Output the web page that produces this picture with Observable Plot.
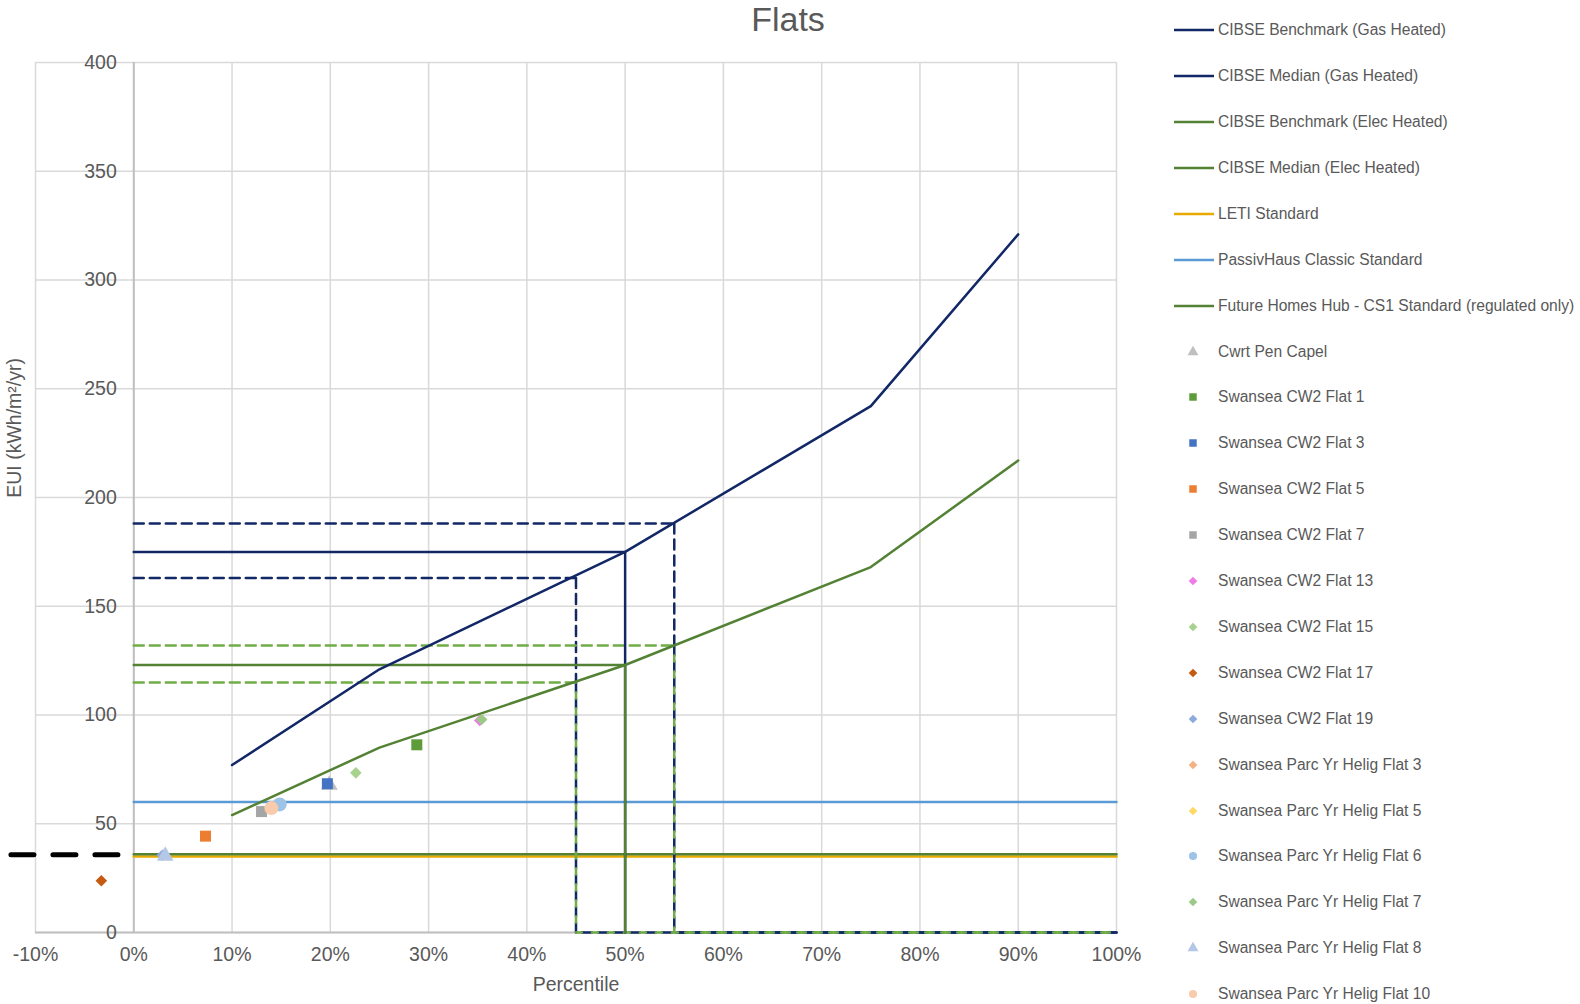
<!DOCTYPE html>
<html><head><meta charset="utf-8">
<script src="https://cdn.jsdelivr.net/npm/d3@7"></script>
<script src="https://cdn.jsdelivr.net/npm/@observablehq/plot@0.6"></script>
<style>
body{margin:0;background:#fff;font-family:"Liberation Sans",Arial,sans-serif;color:#595959;}
#wrap{position:relative;width:1580px;height:1004px;overflow:hidden;}
#title{position:absolute;left:0;top:0;width:1576px;height:45px;text-align:center;font-size:34px;line-height:38px;color:#595959;}
#chart{position:absolute;left:0;top:45px;}
#legend{position:absolute;left:1174px;top:0;}
.item{position:absolute;left:0;height:20px;display:flex;align-items:center;white-space:nowrap;font-size:15.6px;color:#595959;}
.item span{margin-left:4px;}
</style></head><body>
<div id="wrap"><div id="title">Flats</div><div id="chart"></div><div id="legend"></div></div>
<script>
// ---- axes ----
const xTicks = [-10, 0, 10, 20, 30, 40, 50, 60, 70, 80, 90, 100];
const yTicks = [0, 50, 100, 150, 200, 250, 300, 350, 400];

// ---- CIBSE benchmark curves ----
const benchPct = [10, 25, 50, 75, 90];
const gasBenchEUI = [77, 121, 175, 242, 321];
const elecBenchEUI = [54, 85, 123, 168, 217];

// ---- CIBSE median / range markers (percentile lower, median, upper) ----
const rangePct = [45, 50, 55];
const gasRangeEUI = [163, 175, 188];
const elecRangeEUI = [115, 123, 132];

// ---- standards (horizontal, 0%..100%) ----
const standardSpan = [0, 100];
const letiEUI = 35;
const passivhausEUI = 60;
const fhhEUI = 36;

// ---- left-side marker ----
const leftMarkerPct = [-12.5, -1.6];
const leftMarkerEUI = 35.7;

// ---- measured buildings ----
const siteNames = ["Cwrt Pen Capel", "Swansea CW2 Flat 1", "Swansea CW2 Flat 3", "Swansea CW2 Flat 5",
  "Swansea CW2 Flat 7", "Swansea CW2 Flat 13", "Swansea CW2 Flat 15", "Swansea CW2 Flat 17",
  "Swansea CW2 Flat 19", "Swansea Parc Yr Helig Flat 3", "Swansea Parc Yr Helig Flat 5",
  "Swansea Parc Yr Helig Flat 6", "Swansea Parc Yr Helig Flat 7", "Swansea Parc Yr Helig Flat 8",
  "Swansea Parc Yr Helig Flat 10"];
const sitePct = [19.9, 28.8, 19.7, 7.3, 13.0, 35.2, 22.6, -3.3, 2.9, 14.2, 14.4, 14.85, 35.4, 3.2, 14.0];
const siteEUI = [67.9, 86.3, 68.4, 44.3, 55.6, 97.5, 73.4, 23.8, 35.5, 57.5, 57.8, 58.9, 97.9, 35.2, 57.2];
const siteSymbols = ["triangle", "square", "square", "square", "square", "diamond2", "diamond2", "diamond2",
  "diamond2", "diamond2", "diamond2", "circle", "diamond2", "triangle", "circle"];
const siteColors = ["#bfbfbf", "#5e9c3a", "#4472c4", "#ed7d31", "#a5a5a5", "#f07ce8", "#a9d18e", "#c55a11",
  "#8faadc", "#f4b183", "#ffd966", "#9dc3e6", "#9cc987", "#b4c7e7", "#f8cbad"];

// ---- line series legend ----
const lineNames = ["CIBSE Benchmark (Gas Heated)", "CIBSE Median (Gas Heated)", "CIBSE Benchmark (Elec Heated)",
  "CIBSE Median (Elec Heated)", "LETI Standard", "PassivHaus Classic Standard",
  "Future Homes Hub - CS1 Standard (regulated only)"];
const navy = "#112766", green = "#548235", lightGreen = "#70ad47";
const lineColors = [navy, navy, green, green, "#e8aa00", "#5b9bd5", green];

// ---- build tables ----
const gasBench = benchPct.map((p, i) => ({p, v: gasBenchEUI[i]}));
const elecBench = benchPct.map((p, i) => ({p, v: elecBenchEUI[i]}));
// horizontal dashed pieces (0% -> percentile)
const hDash = vals => [0, 2].flatMap(k => [0, rangePct[k]].map(p => ({k, p, v: vals[k]})));
// navy vertical piece above the green level
const navyDrop = [0, 2].flatMap(k => [gasRangeEUI[k], elecRangeEUI[k]].map(v => ({k, p: rangePct[k], v})));
// shared drop: from green level down to 0 and along to 100%
const sharedDrop = [0, 2].flatMap(k => [[rangePct[k], elecRangeEUI[k]], [rangePct[k], 0], [100, 0]].map(([p, v]) => ({k, p, v})));
function medianPath(vals) {
  const p = rangePct[1], v = vals[1];
  return [[0, v], [p, v], [p, 0]].map(([x, y]) => ({p: x, v: y}));
}
const hline = v => standardSpan.map(p => ({p, v}));

const sitesMarks = siteNames.map((n, i) => Plot.dot([{p: sitePct[i], v: siteEUI[i]}], {
  x: "p", y: "v", symbol: () => siteSymbols[i], fill: siteColors[i], stroke: "none",
  r: siteSymbols[i] === "circle" ? 7 : siteSymbols[i] === "diamond2" ? 5.2 : 6.2
}));

const font = "'Liberation Sans', Arial, sans-serif";
const dashW = 2.5;
const chart = Plot.plot({
  width: 1160, height: 959,
  marginLeft: 35, marginRight: 44, marginTop: 17, marginBottom: 72,
  x: {domain: [-10, 100], axis: null},
  y: {domain: [0, 400], axis: null},
  symbol: {type: "identity"},
  style: {fontFamily: font, color: "#595959", background: "white", overflow: "visible"},
  marks: [
    Plot.ruleX(xTicks, {x: d => d, stroke: "#d9d9d9", strokeWidth: 1.5}),
    Plot.ruleY(yTicks, {y: d => d, stroke: "#d9d9d9", strokeWidth: 1.5}),
    Plot.ruleX([0], {x: d => d, stroke: "#bfbfbf", strokeWidth: 2}),
    Plot.ruleY([0], {y: d => d, stroke: "#bfbfbf", strokeWidth: 2}),
    Plot.line(hline(passivhausEUI), {x: "p", y: "v", stroke: lineColors[5], strokeWidth: 2.5}),
    Plot.line(hline(letiEUI), {x: "p", y: "v", stroke: lineColors[4], strokeWidth: 2.5}),
    Plot.line(hline(fhhEUI), {x: "p", y: "v", stroke: lineColors[6], strokeWidth: 2.5}),
    Plot.line(hDash(gasRangeEUI), {x: "p", y: "v", z: "k", stroke: navy, strokeWidth: dashW, strokeDasharray: "10,6"}),
    Plot.line(navyDrop, {x: "p", y: "v", z: "k", stroke: navy, strokeWidth: dashW, strokeDasharray: "10,6"}),
    Plot.line(sharedDrop, {x: "p", y: "v", z: "k", stroke: navy, strokeWidth: dashW, strokeDasharray: "10,6"}),
    Plot.line(sharedDrop, {x: "p", y: "v", z: "k", stroke: lightGreen, strokeWidth: dashW, strokeDasharray: "6,10", strokeDashoffset: 6}),
    Plot.line(hDash(elecRangeEUI), {x: "p", y: "v", z: "k", stroke: lightGreen, strokeWidth: dashW, strokeDasharray: "10,6"}),
    Plot.line(medianPath(gasRangeEUI), {x: "p", y: "v", stroke: navy, strokeWidth: 2.5}),
    Plot.line(medianPath(elecRangeEUI), {x: "p", y: "v", stroke: green, strokeWidth: 2.5}),
    Plot.line(gasBench, {x: "p", y: "v", stroke: navy, strokeWidth: 2.5}),
    Plot.line(elecBench, {x: "p", y: "v", stroke: green, strokeWidth: 2.5}),
    Plot.line(leftMarkerPct.map(p => ({p, v: leftMarkerEUI})), {x: "p", y: "v", stroke: "black", strokeWidth: 5, strokeDasharray: "23,19"}),
    ...sitesMarks,
    Plot.text(xTicks, {x: d => d, frameAnchor: "bottom", dy: 28, text: d => `${d}%`, fontSize: 19.5, fill: "#595959"}),
    Plot.text(yTicks, {x: () => 0, y: d => d, text: d => `${d}`, textAnchor: "end", dx: -17, fontSize: 19.5, fill: "#595959"}),
    Plot.text(["Percentile"], {frameAnchor: "bottom", dy: 58, fontSize: 19.5, fill: "#595959"}),
    Plot.text(["EUI (kWh/m²/yr)"], {y: () => 232, frameAnchor: "left", textAnchor: "middle", dx: -21, rotate: -90, fontSize: 19.5, fill: "#595959"})
  ]
});
document.getElementById("chart").appendChild(chart);

// ---- legend ----
const legend = document.getElementById("legend");
const entries = [
  ...lineNames.map((n, i) => ({n, type: "line", c: lineColors[i]})),
  ...siteNames.map((n, i) => ({n, type: siteSymbols[i], c: siteColors[i]}))
];
const symMap = {square: d3.symbolSquare, triangle: d3.symbolTriangle, diamond2: d3.symbolDiamond2, circle: d3.symbolCircle};
const symSize = {square: 56, triangle: 52, diamond2: 48, circle: 52};
entries.forEach((e, i) => {
  const cy = 30.2 + i * 45.9;
  const div = document.createElement("div");
  div.className = "item";
  div.style.top = (cy - 10) + "px";
  const svg = d3.create("svg").attr("width", 40).attr("height", 20);
  if (e.type === "line") {
    svg.append("line").attr("x1", 0).attr("x2", 40).attr("y1", 10).attr("y2", 10)
      .attr("stroke", e.c).attr("stroke-width", 2.5);
  } else {
    svg.append("path").attr("transform", "translate(19,10)")
      .attr("d", d3.symbol(symMap[e.type], symSize[e.type])()).attr("fill", e.c);
  }
  div.appendChild(svg.node());
  const span = document.createElement("span");
  span.textContent = e.n;
  div.appendChild(span);
  legend.appendChild(div);
});
</script>
</body></html>
